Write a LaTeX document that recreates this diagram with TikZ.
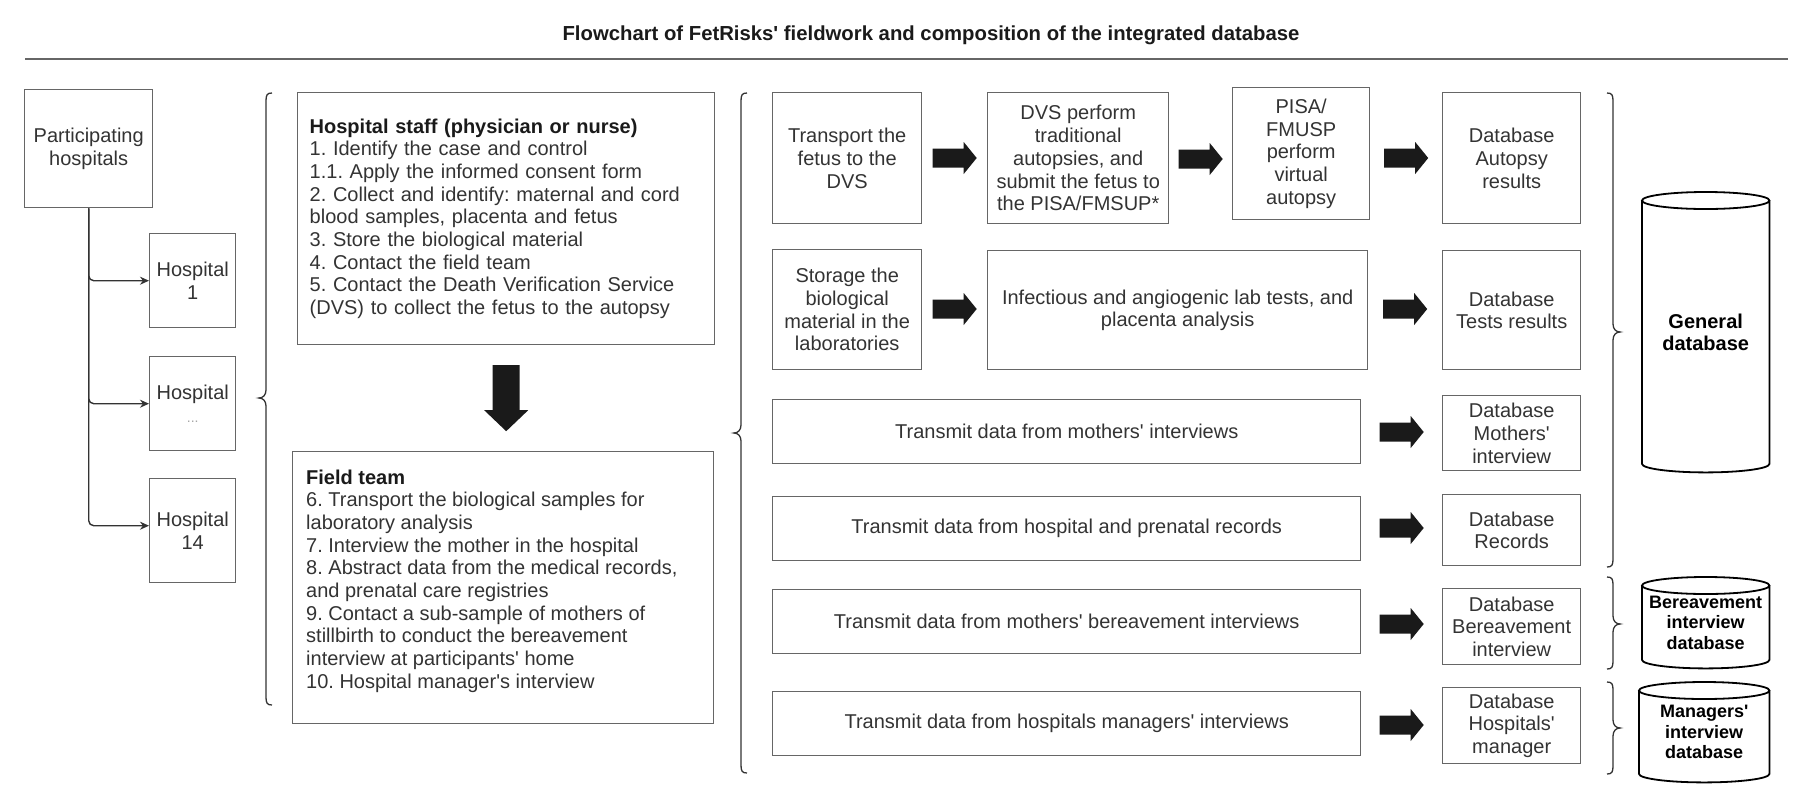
\documentclass[tikz,border=0pt]{standalone}
\usepackage{fontspec}
\setmainfont{Liberation Sans}[Ligatures=TeXOff]
\usetikzlibrary{calc,arrows.meta}
\definecolor{txt}{HTML}{333333}
\definecolor{bord}{HTML}{666666}
\definecolor{dark}{HTML}{1A1A1A}
\definecolor{lin}{HTML}{333333}
\frenchspacing
\tikzset{
  box/.style={draw=bord, line width=1.4pt, inner sep=2pt, align=center, text=txt,
    font=\fontsize{20}{22.7}\selectfont, anchor=north west},
  panel/.style={draw=bord, line width=1.4pt, anchor=north west, inner sep=0pt},
  paneltext/.style={text=txt, align=left, font=\fontsize{20}{22.7}\selectfont, inner sep=0pt},
  blockarrow/.style={fill=dark},
  conn/.style={draw=lin, line width=1.4pt, rounded corners=5pt, -{Stealth[length=9pt,width=8pt]}},
  brc/.style={draw=lin, line width=1.3pt},
  cylline/.style={draw=black, line width=1.8pt},
  cyltext/.style={align=center, text=black, font=\bfseries\fontsize{18}{20.5}\selectfont,
    inner sep=0pt, anchor=north west},
  titletext/.style={font=\bfseries\fontsize{20.3}{24}\selectfont, text=dark, anchor=base},
  rulestyle/.style={draw=bord, line width=1.6pt}
}
% horizontal block arrow between two nodes, at picture height #3
\newcommand{\harr}[3]{\fill[blockarrow] let \p1=(#1.east), \p2=(#2.west), \p3=(0,#3) in
  ({(\x1+\x2)/2-22pt},{\y3-9.5pt}) -- ++(31pt,0pt) -- ++(0pt,-6.5pt) -- ++(13pt,16pt)
  -- ++(-13pt,16pt) -- ++(0pt,-6.5pt) -- ++(-31pt,0pt) -- cycle;}
% vertical block arrow between two nodes
\newcommand{\varr}[2]{\fill[blockarrow] let \p1=(#1.south), \p2=(#2.north) in
  ({\x1-13.5pt},{(\y1+\y2)/2+33pt}) -- ++(27pt,0pt) -- ++(0pt,-45pt) -- ++(8.5pt,0pt)
  -- ++(-22pt,-21pt) -- ++(-22pt,21pt) -- ++(8.5pt,0pt) -- cycle;}
% cylinder around a node
\newcommand{\cyl}[2]{\draw[cylline] let \p1=(#1.north west), \p2=(#1.south east) in
  (\x1,{\y1-#2pt}) -- (\x1,{\y2+#2pt})
  arc[start angle=180, end angle=360, x radius={(\x2-\x1)/2}, y radius=#2pt]
  -- (\x2,{\y1-#2pt})
  ({(\x1+\x2)/2},{\y1-#2pt}) ellipse[x radius={(\x2-\x1)/2}, y radius=#2pt];}
% left curly brace: x, top, bottom, tip y
\newcommand{\lbrc}[4]{\draw[brc] (#1+6,#2) .. controls (#1+1,#2) and (#1,#2+2) .. (#1,#2+8)
  -- (#1,#4-8) .. controls (#1,#4-3) and (#1-3,#4) .. (#1-7,#4)
  .. controls (#1-3,#4) and (#1,#4+3) .. (#1,#4+8)
  -- (#1,#3-8) .. controls (#1,#3-2) and (#1+1,#3) .. (#1+6,#3);}
% right curly brace
\newcommand{\rbrc}[4]{\draw[brc] (#1-6,#2) .. controls (#1-1,#2) and (#1,#2+2) .. (#1,#2+8)
  -- (#1,#4-8) .. controls (#1,#4-3) and (#1+3,#4) .. (#1+7,#4)
  .. controls (#1+3,#4) and (#1,#4+3) .. (#1,#4+8)
  -- (#1,#3-8) .. controls (#1,#3-2) and (#1-1,#3) .. (#1-6,#3);}
\begin{document}
\frenchspacing
\begin{tikzpicture}[x=1pt,y=-1pt]
\useasboundingbox (0,0) rectangle (1800,804);

% title
\node[titletext] (title) at (931,40) {Flowchart of FetRisks' fieldwork and composition of the integrated database};
\draw[rulestyle] (25,59) -- (1788,59);

% hospitals
\node[box, minimum width=128pt, minimum height=118pt] (part) at (24,89) {Participating\\hospitals};
\node[box, minimum width=86pt, minimum height=94pt] (h1) at (149,233) {Hospital\\1};
\node[box, minimum width=86pt, minimum height=94pt] (hd) at (149,356) {Hospital\\{\color{gray!70}\fontsize{14}{22.7}\selectfont ...}};
\node[box, minimum width=86pt, minimum height=104pt] (h14) at (149,478) {Hospital\\14};
\draw[conn] (part.south) |- (h1.west);
\draw[conn] (part.south) |- (hd.west);
\draw[conn] (part.south) |- ([yshift=5pt]h14.west);

\lbrc{266}{93}{705}{398}

% staff and field team
\node[box, align=left, text width=393pt, inner xsep=12pt, inner ysep=0pt, minimum height=252pt] (staff) at (297,92)
 {{\bfseries\color{dark}Hospital staff (physician or nurse)}\\
  1. Identify the case and control\\
  1.1. Apply the informed consent form\\
  2. Collect and identify: maternal and cord\\
  blood samples, placenta and fetus\\
  3. Store the biological material\\
  4. Contact the field team\\
  5. Contact the Death Verification Service\\
  (DVS) to collect the fetus to the autopsy};
\node[panel, minimum width=421pt, minimum height=272pt] (field) at (292,451) {};
\node[paneltext, anchor=west] (fieldtxt) at (306,581)
 {{\bfseries\color{dark}Field team}\\
  6. Transport the biological samples for\\
  laboratory analysis\\
  7. Interview the mother in the hospital\\
  8. Abstract data from the medical records,\\
  and prenatal care registries\\
  9. Contact a sub-sample of mothers of\\
  stillbirth to conduct the bereavement\\
  interview at participants' home\\
  10. Hospital manager's interview};
\varr{staff}{field}

\lbrc{741}{93}{773}{433}

% process boxes
\node[box, minimum width=149pt, minimum height=131pt] (transport) at (772,92) {Transport the\\fetus to the\\DVS};
\node[box, minimum width=181pt, minimum height=131pt] (dvs) at (987,92) {DVS perform\\traditional\\autopsies, and\\submit the fetus to\\the PISA/FMSUP*};
\node[box, minimum width=137pt, minimum height=132pt] (pisa) at (1232,87) {PISA/\\FMUSP\\perform\\virtual\\autopsy};
\node[box, minimum width=149pt, minimum height=120pt] (storage) at (772,249) {Storage the\\biological\\material in the\\laboratories};
\node[box, minimum width=380pt, minimum height=119pt] (infect) at (987,250) {Infectious and angiogenic lab tests, and\\placenta analysis};
\node[box, minimum width=588pt, minimum height=64pt] (tm) at (772,399) {Transmit data from mothers' interviews};
\node[box, minimum width=588pt, minimum height=64pt] (tr) at (772,496) {Transmit data from hospital and prenatal records};
\node[box, minimum width=588pt, minimum height=64pt] (tb) at (772,589) {Transmit data from mothers' bereavement interviews};
\node[box, minimum width=588pt, minimum height=64pt] (tmg) at (772,691) {Transmit data from hospitals managers' interviews};

% database boxes
\node[box, minimum width=138pt, minimum height=131pt] (dbA) at (1442,92) {Database\\Autopsy\\results};
\node[box, minimum width=138pt, minimum height=119pt] (dbT) at (1442,250) {Database\\Tests results};
\node[box, minimum width=138pt, minimum height=75pt] (dbM) at (1442,395) {Database\\Mothers'\\interview};
\node[box, minimum width=138pt, minimum height=71pt] (dbR) at (1442,494) {Database\\Records};
\node[box, minimum width=138pt, minimum height=76pt] (dbB) at (1442,588) {Database\\Bereavement\\interview};
\node[box, minimum width=138pt, minimum height=76pt] (dbH) at (1442,687) {Database\\Hospitals'\\manager};

% block arrows
\harr{transport}{dvs}{158}
\harr{dvs}{pisa}{159}
\harr{pisa}{dbA}{158}
\harr{storage}{infect}{309}
\harr{infect}{dbT}{309}
\harr{tm}{dbM}{432}
\harr{tr}{dbR}{528}
\harr{tb}{dbB}{624}
\harr{tmg}{dbH}{725}

% right braces
\rbrc{1613}{93}{567}{332}
\rbrc{1613}{577}{669}{624}
\rbrc{1613}{682}{774}{728}

% cylinders
\node[cyltext, font=\bfseries\fontsize{20}{22.7}\selectfont, minimum width=127pt, minimum height=280pt] (gen) at (1642,192) {General\\database};
\cyl{gen}{8.5}
\node[cyltext, minimum width=127pt, minimum height=91pt] (ber) at (1642,577) {Bereavement\\interview\\database};
\cyl{ber}{8.5}
\node[cyltext, minimum width=130pt, minimum height=100pt] (man) at (1639,682) {Managers'\\interview\\database};
\cyl{man}{8.5}
\end{tikzpicture}
\end{document}
